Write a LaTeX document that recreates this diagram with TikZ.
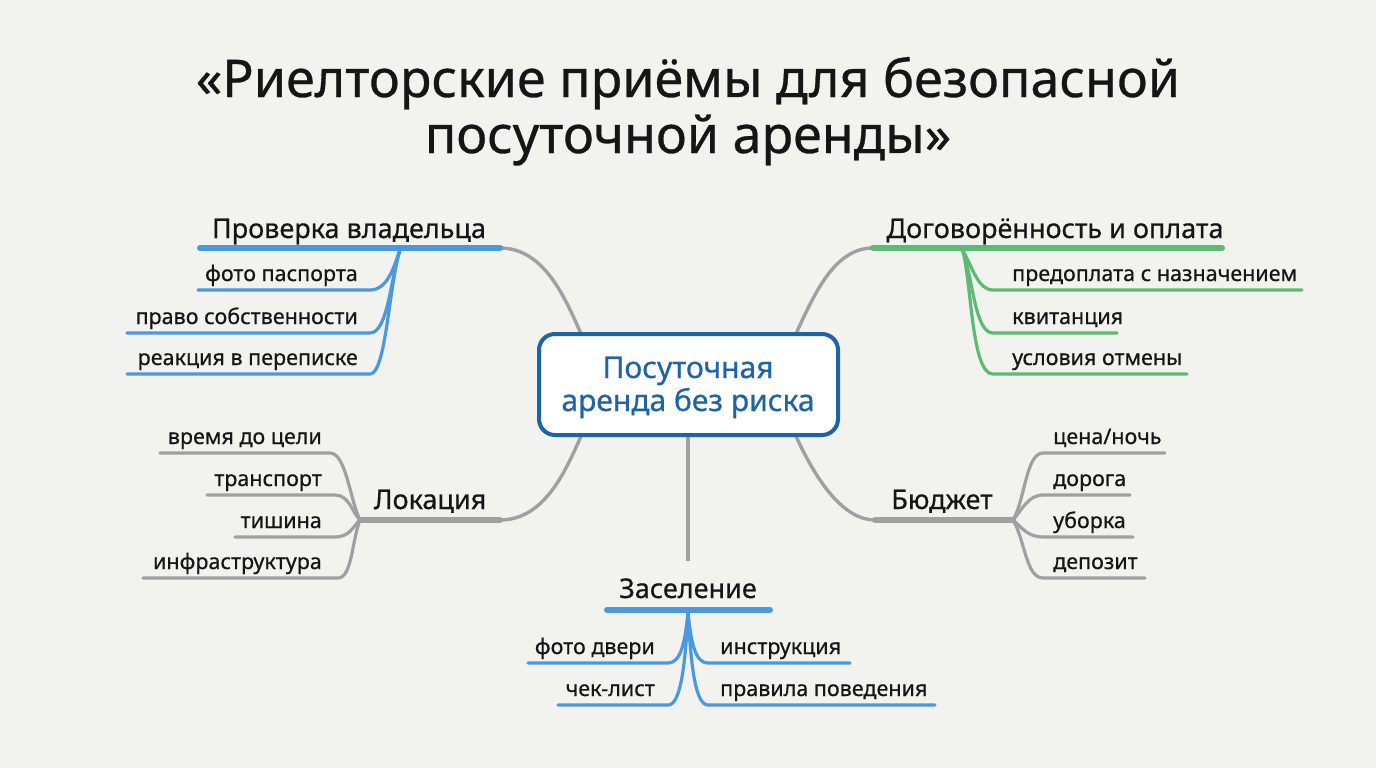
\documentclass[tikz,border=0pt]{standalone}
\usepackage{fontspec}
\setmainfont{Noto Sans}[FakeBold=0.6]
\definecolor{bg}{HTML}{F2F2EF}
\definecolor{lblue}{HTML}{4A98E2}
\definecolor{lgreen}{HTML}{5CBA72}
\definecolor{lgrey}{HTML}{A0A0A0}
\definecolor{dblue}{HTML}{1E63A6}
\definecolor{ink}{HTML}{151515}
\begin{document}
\begin{tikzpicture}[x=1pt,y=-1pt,
  ttl/.style={font=\fontsize{52}{60}\selectfont, text=ink, inner sep=0pt},
  head/.style={font=\fontsize{27}{32}\selectfont, text=ink, inner sep=0pt},
  sub/.style={font=\fontsize{21.5}{25}\selectfont, text=ink, inner sep=0pt},
  ctext/.style={font=\fontsize{30}{36}\selectfont, text=dblue, inner sep=0pt},
  hline/.style={line width=6pt, line cap=round},
  sline/.style={line width=3.2pt, line cap=round},
  conn/.style={lgrey, line width=3.4pt, line cap=round}]
\fill[bg] (0,0) rectangle (1376,768);
\useasboundingbox (0,0) rectangle (1376,768);

% title
\node[ttl, anchor=base] (t1) at (688,97) {«Риелторские приёмы для безопасной};
\node[ttl, anchor=base] (t2) at (688,153) {посуточной аренды»};

% hub anchor coordinates for connectors
\coordinate (hTL) at (582,336);
\coordinate (hTR) at (795,336);
\coordinate (hBL) at (582,434);
\coordinate (hBR) at (795,434);
\coordinate (hB) at (688,434);

% ---------- branch 1: Проверка владельца ----------
\coordinate (p1L) at (200,248); \coordinate (p1R) at (500,248);
\coordinate (p1O) at (400,250);
\draw[conn] (p1R) .. controls (545,248) and (566,300) .. (hTL);
\draw[lblue, hline] (p1L) -- (p1R);
\node[head, anchor=base] (p1) at (349,238) {Проверка владельца};
\coordinate (a1L) at (198,290); \coordinate (a1R) at (370,290);
\coordinate (a2L) at (127,333); \coordinate (a2R) at (370,333);
\coordinate (a3L) at (127,374); \coordinate (a3R) at (370,374);
\draw[lblue, sline] (a1L) -- (a1R) .. controls (388,290) and (394,266) .. (p1O);
\draw[lblue, sline] (a2L) -- (a2R) .. controls (388,333) and (391,276) .. (p1O);
\draw[lblue, sline] (a3L) -- (a3R) .. controls (386,374) and (389,285) .. (p1O);
\node[sub, anchor=base east] (a1) at (358,281) {фото паспорта};
\node[sub, anchor=base east] (a2) at (358,324) {право собственности};
\node[sub, anchor=base east] (a3) at (358,365) {реакция в переписке};

% ---------- branch 2: Договорённость и оплата ----------
\coordinate (p2L) at (873,248); \coordinate (p2R) at (1222,248);
\coordinate (p2O) at (963,251);
\draw[conn] (hTR) .. controls (815,292) and (835,248) .. (p2L);
\draw[lgreen, hline] (p2L) -- (p2R);
\node[head, anchor=base] (p2) at (1055,238) {Договорённость и оплата};
\coordinate (b1L) at (993,290); \coordinate (b1R) at (1302,290);
\coordinate (b2L) at (993,333); \coordinate (b2R) at (1117,333);
\coordinate (b3L) at (993,374); \coordinate (b3R) at (1187,374);
\draw[lgreen, sline] (p2O) .. controls (973,268) and (978,290) .. (b1L) -- (b1R);
\draw[lgreen, sline] (p2O) .. controls (973,280) and (975,333) .. (b2L) -- (b2R);
\draw[lgreen, sline] (p2O) .. controls (972,290) and (972,374) .. (b3L) -- (b3R);
\node[sub, anchor=base west] (b1) at (1012,281) {предоплата с назначением};
\node[sub, anchor=base west] (b2) at (1012,324) {квитанция};
\node[sub, anchor=base west] (b3) at (1012,365) {условия отмены};

% ---------- branch 3: Локация ----------
\coordinate (p3L) at (360,520); \coordinate (p3R) at (500,520);
\draw[conn] (p3R) .. controls (545,520) and (566,470) .. (hBL);
\draw[lgrey, hline] (p3L) -- (p3R);
\node[head, anchor=base] (p3) at (430,509) {Локация};
\coordinate (c1L) at (160,453); \coordinate (c1R) at (330,453);
\coordinate (c2L) at (207,495); \coordinate (c2R) at (335,495);
\coordinate (c3L) at (235,537); \coordinate (c3R) at (335,537);
\coordinate (c4L) at (143,578); \coordinate (c4R) at (338,578);
\draw[lgrey, sline] (c1L) -- (c1R) .. controls (346,453) and (350,500) .. (p3L);
\draw[lgrey, sline] (c2L) -- (c2R) .. controls (349,495) and (352,512) .. (p3L);
\draw[lgrey, sline] (c3L) -- (c3R) .. controls (349,537) and (352,528) .. (p3L);
\draw[lgrey, sline] (c4L) -- (c4R) .. controls (352,578) and (352,540) .. (p3L);
\node[sub, anchor=base east] (c1) at (322,444) {время до цели};
\node[sub, anchor=base east] (c2) at (322,486) {транспорт};
\node[sub, anchor=base east] (c3) at (322,528) {тишина};
\node[sub, anchor=base east] (c4) at (322,569) {инфраструктура};

% ---------- branch 4: Бюджет ----------
\coordinate (p4L) at (875,520); \coordinate (p4R) at (1013,520);
\draw[conn] (hBR) .. controls (818,485) and (845,520) .. (p4L);
\draw[lgrey, hline] (p4L) -- (p4R);
\node[head, anchor=base] (p4) at (942,509) {Бюджет};
\coordinate (d1L) at (1043,453); \coordinate (d1R) at (1165,453);
\coordinate (d2L) at (1043,495); \coordinate (d2R) at (1130,495);
\coordinate (d3L) at (1043,537); \coordinate (d3R) at (1133,537);
\coordinate (d4L) at (1043,578); \coordinate (d4R) at (1145,578);
\draw[lgrey, sline] (p4R) .. controls (1025,500) and (1026,453) .. (d1L) -- (d1R);
\draw[lgrey, sline] (p4R) .. controls (1022,510) and (1028,495) .. (d2L) -- (d2R);
\draw[lgrey, sline] (p4R) .. controls (1022,528) and (1028,537) .. (d3L) -- (d3R);
\draw[lgrey, sline] (p4R) .. controls (1025,540) and (1026,578) .. (d4L) -- (d4R);
\node[sub, anchor=base west] (d1) at (1053,444) {цена/ночь};
\node[sub, anchor=base west] (d2) at (1053,486) {дорога};
\node[sub, anchor=base west] (d3) at (1053,528) {уборка};
\node[sub, anchor=base west] (d4) at (1053,569) {депозит};

% ---------- branch 5: Заселение ----------
\coordinate (p5T) at (688,561);
\draw[lgrey, line width=3.4pt] (hB) -- (p5T);
\coordinate (p5L) at (607,610); \coordinate (p5R) at (770,610);
\coordinate (p5O) at (688,612);
\draw[lblue, hline] (p5L) -- (p5R);
\node[head, anchor=base] (p5) at (688,598) {Заселение};
\coordinate (e1L) at (528,663); \coordinate (e1R) at (668,663);
\coordinate (e2L) at (558,705); \coordinate (e2R) at (668,705);
\coordinate (e3L) at (708,663); \coordinate (e3R) at (850,663);
\coordinate (e4L) at (708,705); \coordinate (e4R) at (935,705);
\draw[lblue, sline] (e1L) -- (e1R) .. controls (680,663) and (685,645) .. (p5O);
\draw[lblue, sline] (e2L) -- (e2R) .. controls (680,705) and (685,670) .. (p5O);
\draw[lblue, sline] (p5O) .. controls (691,645) and (696,663) .. (e3L) -- (e3R);
\draw[lblue, sline] (p5O) .. controls (691,670) and (696,705) .. (e4L) -- (e4R);
\node[sub, anchor=base east] (e1) at (655,654) {фото двери};
\node[sub, anchor=base east] (e2) at (655,696) {чек-лист};
\node[sub, anchor=base west] (e3) at (720,654) {инструкция};
\node[sub, anchor=base west] (e4) at (720,696) {правила поведения};

% ---------- hub ----------
\node[draw=dblue, line width=4pt, fill=white, rounded corners=16pt,
      minimum width=299pt, minimum height=101pt, inner sep=0pt] (hub) at (688.5,384.5) {};
\node[ctext, anchor=base] (hub1) at (688,378) {Посуточная};
\node[ctext, anchor=base] (hub2) at (688,411) {аренда без риска};
\end{tikzpicture}
\end{document}
